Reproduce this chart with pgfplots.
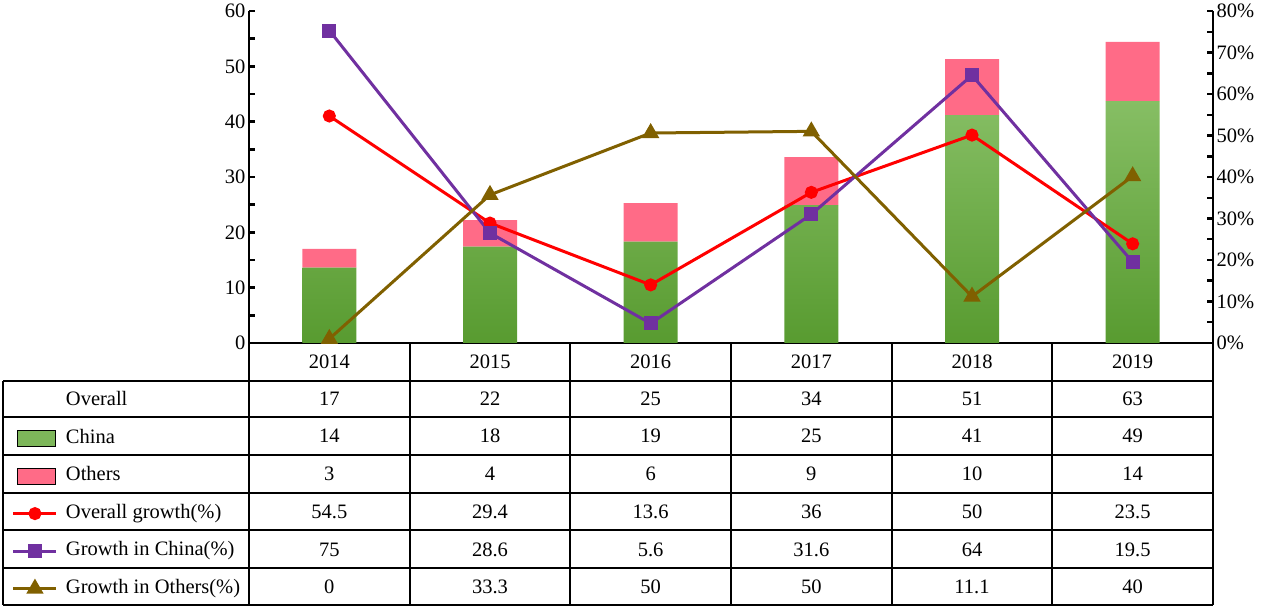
\documentclass[border=0pt]{standalone}
\usepackage{pgfplots}
\pgfplotsset{compat=1.18}
\usepackage{fontspec}
\setmainfont{Liberation Serif}
\definecolor{gtop}{RGB}{134,190,100}
\definecolor{gbot}{RGB}{88,155,48}
\definecolor{pinkc}{RGB}{255,107,135}
\definecolor{redc}{RGB}{255,0,0}
\definecolor{purc}{RGB}{112,48,160}
\definecolor{olic}{RGB}{128,96,0}
\newcommand\fs{\fontsize{20.5}{24}\selectfont}
\pgfplotsset{
  mylinelegend/.style={legend image code/.code={\draw[mark repeat=2,mark phase=2,##1] plot coordinates {(0pt,0pt) (21.5pt,0pt) (43pt,0pt)};}},
  myarealegend/.style={legend image code/.code={\fill[##1] (4pt,-8pt) rectangle (42pt,8pt);}},
  common/.style={
    at={(249pt,265pt)}, anchor=south west,
    scale only axis, width=964pt, height=332pt,
    xmin=-0.5, xmax=5.5,
    font=\fs,
    /pgf/number format/assume math mode=true,
    tick align=inside, major tick length=6pt, minor tick length=6pt,
    every tick/.style={line width=2.5pt, black},
    axis line style={-, line width=2.5pt, black},
    every outer x axis line/.append style={-},
    every outer y axis line/.append style={-},
  }
}
\begin{document}
\begin{tikzpicture}
\useasboundingbox (0pt,0pt) rectangle (1262pt,608pt);
\begin{axis}[common,
  ymin=0, ymax=60,
  axis x line*=bottom, axis y line*=left,
  xtick={0,1,2,3,4,5},
  xticklabels={\textrm{2014},\textrm{2015},\textrm{2016},\textrm{2017},\textrm{2018},\textrm{2019}},
  x tick style={draw=none},
  x tick label style={anchor=base, yshift=-26pt},
  ytick={0,10,20,30,40,50,60},
  yticklabels={\textrm{0},\textrm{10},\textrm{20},\textrm{30},\textrm{40},\textrm{50},\textrm{60}},
  minor ytick={5,15,25,35,45,55},
  ybar stacked, bar width=54pt,
]
\addplot[draw=none, top color=gtop, bottom color=gbot] coordinates {(0,13.6) (1,17.4) (2,18.3) (3,24.9) (4,41.2) (5,43.7)};
\addplot[draw=none, fill=pinkc] coordinates {(0,3.4) (1,4.8) (2,7.0) (3,8.7) (4,10.1) (5,10.7)};
\end{axis}
\begin{axis}[common,
  ymin=0, ymax=80,
  axis y line*=right, axis x line=none,
  ytick={0,10,20,30,40,50,60,70,80},
  yticklabels={\textrm{0\%},\textrm{10\%},\textrm{20\%},\textrm{30\%},\textrm{40\%},\textrm{50\%},\textrm{60\%},\textrm{70\%},\textrm{80\%}},
  minor ytick={5,15,25,35,45,55,65,75},
  legend style={at={(axis description cs:-0.2459,-0.1464)}, anchor=north west,
    draw=none, fill=none, inner sep=0pt, outer sep=0pt,
    row sep=18.5pt, column sep=8pt, font=\fs,
    nodes={inner sep=0pt, text height=14pt, text depth=5pt}},
  legend cell align=left,
]
\addplot[forget plot, redc, line width=3pt, mark=*, mark size=5pt, mark options={solid, fill=redc}] coordinates {(0,54.7) (1,28.9) (2,14.0) (3,36.3) (4,50.1) (5,23.9)};
\addplot[forget plot, purc, line width=3pt, mark=square*, mark size=5.5pt, mark options={solid, fill=purc}] coordinates {(0,75.3) (1,26.5) (2,4.7) (3,31.0) (4,64.5) (5,19.5)};
\addplot[forget plot, olic, line width=3pt, mark=triangle*, mark size=7pt, mark options={solid, fill=olic}] coordinates {(0,1) (1,35.7) (2,50.6) (3,51.0) (4,11.2) (5,40.2)};
\addlegendimage{empty legend}
\addlegendentry{Overall}
\addlegendimage{myarealegend, fill=gtop!80!gbot}
\addlegendentry{China}
\addlegendimage{myarealegend, fill=pinkc}
\addlegendentry{Others}
\addlegendimage{mylinelegend, redc, line width=3pt, mark=*, mark size=5pt, mark options={solid, fill=redc}}
\addlegendentry{Overall growth(\%)}
\addlegendimage{mylinelegend, purc, line width=3pt, mark=square*, mark size=5.5pt, mark options={solid, fill=purc}}
\addlegendentry{Growth in China(\%)}
\addlegendimage{mylinelegend, olic, line width=3pt, mark=triangle*, mark size=7pt, mark options={solid, fill=olic}}
\addlegendentry{Growth in Others(\%)}
\end{axis}
\begin{scope}[x=1pt, y=1pt, line width=2pt]
  \foreach \yy in {227,190.5,153,115,77.5,40,3} \draw (3,\yy) -- (1213,\yy);
  \draw (3,227) -- (3,3);
  \foreach \k in {0,...,6} \draw ({249+160.667*\k},265) -- ({249+160.667*\k},3);
  \foreach \row/\yy/\vals in {
      0/209/{17,22,25,34,51,63},
      1/172/{14,18,19,25,41,49},
      2/134/{3,4,6,9,10,14},
      3/96/{54.5,29.4,13.6,36,50,23.5},
      4/58.5/{75,28.6,5.6,31.6,64,19.5},
      5/21/{0,33.3,50,50,11.1,40}} {
    \foreach \v [count=\c from 0] in \vals
      \node[font=\fs, inner sep=0pt] at ({249+160.667*(\c+0.5)},\yy) {\v};
  }
\end{scope}
\end{tikzpicture}
\end{document}
